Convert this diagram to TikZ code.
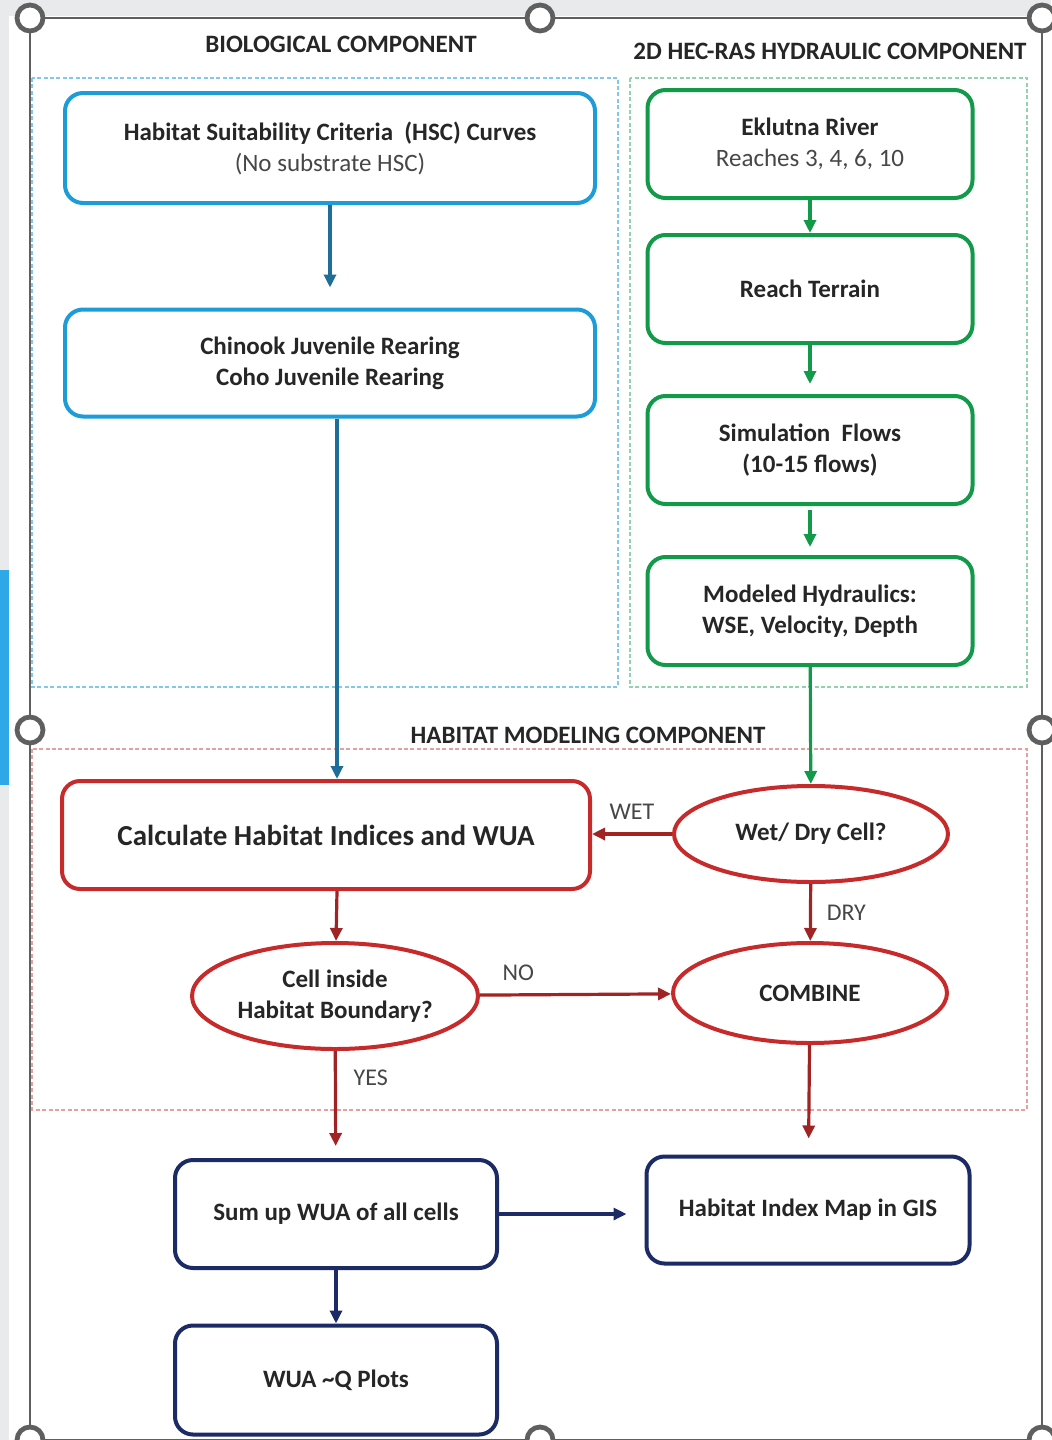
\documentclass[tikz,border=0pt]{standalone}
\usepackage{fontspec}
\setmainfont{Carlito}
\usetikzlibrary{arrows.meta,shapes.geometric}
\definecolor{slidegrey}{HTML}{E9EAEB}
\definecolor{selblue}{HTML}{2EA8E6}
\definecolor{handlegrey}{HTML}{5F5F5F}
\definecolor{bioblue}{HTML}{1E9CD7}
\definecolor{bioarrow}{HTML}{1F6E9A}
\definecolor{hydgreen}{HTML}{12994A}
\definecolor{habred}{HTML}{C62A2A}
\definecolor{habarrow}{HTML}{A02424}
\definecolor{outnavy}{HTML}{1C2B66}
\definecolor{txt}{HTML}{262626}
\tikzset{
every node/.style={text=txt, align=center, font=\bfseries\fontsize{12.5}{15.5}\selectfont},
stepbox/.style={rectangle, rounded corners=9pt, line width=2pt, fill=white},
decision/.style={ellipse, line width=2pt, draw=habred, fill=white, inner sep=0pt},
flowline/.style={line width=1.6pt, -{Triangle[length=6.5pt,width=6pt]}},
zone/.style={line width=0.6pt, dash pattern=on 2pt off 1.2pt},
handle/.style={circle, draw=handlegrey, line width=2.4pt, fill=white, minimum size=13pt, inner sep=0pt},
title/.style={font=\bfseries\fontsize{12.5}{14}\selectfont},
answer/.style={font=\fontsize{12}{14}\selectfont, text=txt!85}
}

\begin{document}
\begin{tikzpicture}[x=0.5pt, y=-0.5pt]
\useasboundingbox (0,0) rectangle (1051,1440);
\fill[slidegrey] (0,0) rectangle (1051,1440);
\fill[white] (9,16) rectangle (1051,1440);
\fill[selblue] (0,570) rectangle (9,785);
\draw[handlegrey, line width=1pt] (30,18) rectangle (1042,1440);

\draw[zone, bioblue!55] (32,78) rectangle (618,687);
\draw[zone, hydgreen!45] (630,78) rectangle (1027,687);
\draw[zone, habred!45] (32,749) rectangle (1027,1110);

\node[title] (biotitle) at (341,44) {BIOLOGICAL COMPONENT};
\node[title] (hydtitle) at (830,51) {2D HEC-RAS HYDRAULIC COMPONENT};
\node[title] (habtitle) at (588,735) {HABITAT MODELING COMPONENT};

\node[stepbox, draw=bioblue, minimum width=265pt, minimum height=55pt] (hsc) at (330,148)
  {Habitat Suitability Criteria\ \ (HSC) Curves\\{\mdseries\color{txt!85}(No substrate HSC)}};
\node[stepbox, draw=bioblue, minimum width=265pt, minimum height=53.5pt] (fish) at (330,363)
  {Chinook Juvenile Rearing\\Coho Juvenile Rearing};

\node[stepbox, draw=hydgreen, minimum width=162.5pt, minimum height=54pt] (river) at (810,144)
  {Eklutna River\\{\mdseries\color{txt!85}Reaches 3, 4, 6, 10}};
\node[stepbox, draw=hydgreen, minimum width=162.5pt, minimum height=54pt] (terrain) at (810,289) {Reach Terrain};
\node[stepbox, draw=hydgreen, minimum width=162.5pt, minimum height=54pt] (flows) at (810,450)
  {Simulation\ \ Flows\\(10-15 flows)};
\node[stepbox, draw=hydgreen, minimum width=162.5pt, minimum height=54pt] (hydro) at (810,611)
  {Modeled Hydraulics:\\WSE, Velocity, Depth};

\node[stepbox, draw=habred, minimum width=264pt, minimum height=54pt, font=\bfseries\fontsize{14.5}{17}\selectfont] (calc) at (326,835)
  {Calculate Habitat Indices and WUA};
\node[decision, minimum width=137pt, minimum height=48pt] (wetdry) at (811,834) {Wet/ Dry Cell?};
\node[decision, minimum width=137pt, minimum height=50pt] (combine) at (810,993) {COMBINE};
\node[decision, minimum width=143pt, minimum height=53pt] (inside) at (335,996) {Cell inside\\Habitat Boundary?};

\node[stepbox, draw=outnavy, minimum width=161pt, minimum height=54pt] (sumup) at (336,1214) {Sum up WUA of all cells};
\node[stepbox, draw=outnavy, minimum width=161.5pt, minimum height=53.5pt] (gismap) at (808,1210) {Habitat Index Map in GIS};
\node[stepbox, draw=outnavy, minimum width=161pt, minimum height=54.5pt] (plots) at (336,1380) {WUA \textasciitilde Q Plots};

\draw[flowline, bioarrow, shorten >=10pt] (hsc) -- (fish);
\draw[flowline, bioarrow] ([xshift=3.5pt]fish.south) -- ([xshift=3.5pt]fish.south |- calc.north);

\draw[flowline, hydgreen] (river) -- (terrain);
\draw[flowline, hydgreen, shorten >=5pt] (terrain) -- (flows);
\draw[flowline, hydgreen, shorten <=2pt, shorten >=4pt] (flows) -- (hydro);
\draw[flowline, hydgreen] (hydro) -- (wetdry);

\draw[flowline, habarrow] (wetdry) -- node[answer, above=3pt] {WET} (calc.east |- wetdry);
\draw[flowline, habarrow] (wetdry) -- node[answer, right=4pt] {DRY} (combine);
\draw[flowline, habarrow] ([xshift=5.5pt]calc.south) -- (inside);
\draw[flowline, habarrow] (inside) -- node[answer, above=3pt, pos=0.2] {NO} (combine);
\draw[flowline, habarrow, shorten >=6pt] (inside) -- node[answer, right=5pt, pos=0.25] {YES} (sumup);
\draw[flowline, habarrow, shorten >=8pt] (combine) -- (gismap);

\draw[flowline, outnavy, shorten >=9pt] (sumup) -- (gismap.west |- sumup);
\draw[flowline, outnavy] (sumup) -- (plots);

\foreach \hx/\hy [count=\hn] in {30/18, 540/18, 1042/18, 30/730, 1042/730, 30/1440, 540/1440, 1042/1440}
  \node[handle] (handle\hn) at (\hx,\hy) {};
\end{tikzpicture}
\end{document}
